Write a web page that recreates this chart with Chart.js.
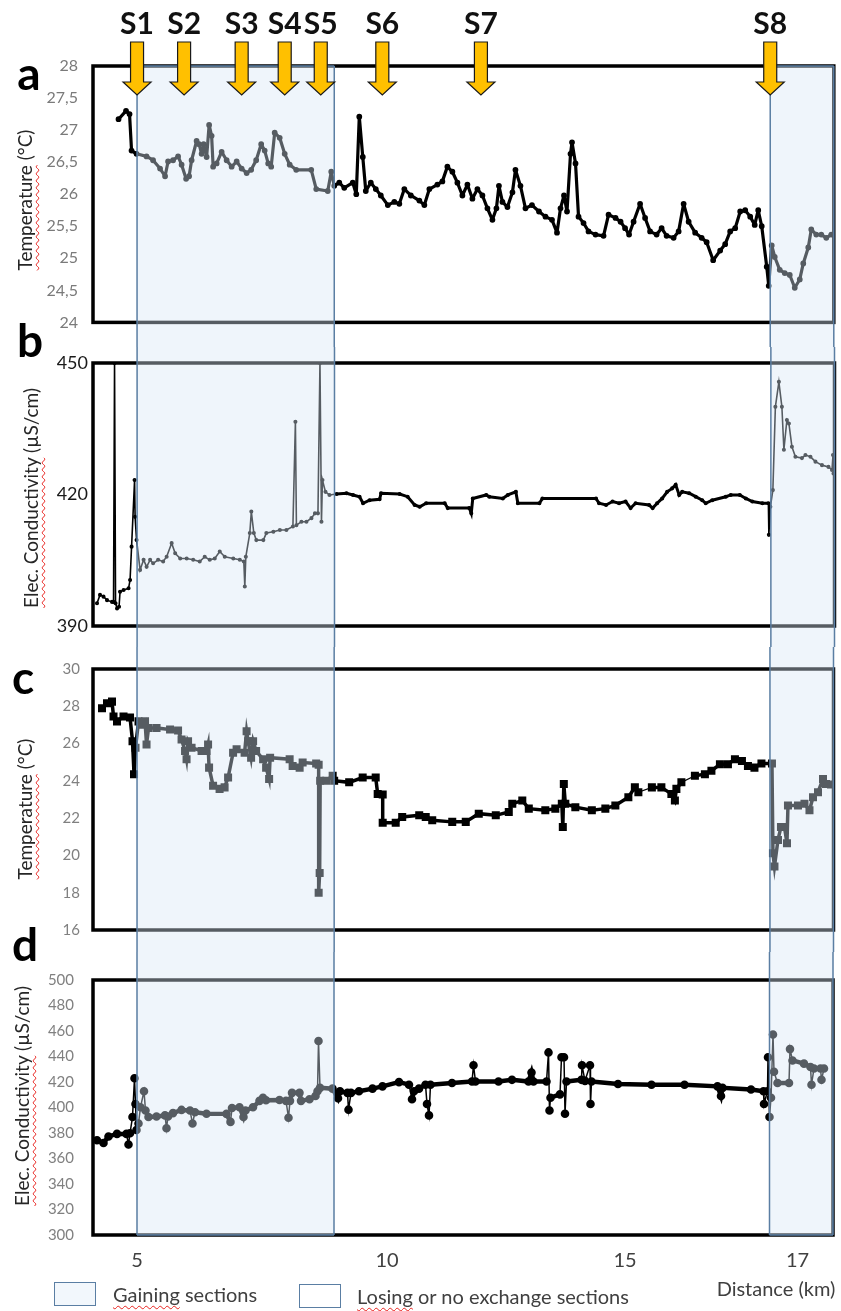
<!DOCTYPE html>
<html><head><meta charset="utf-8">
<script src="https://cdn.jsdelivr.net/npm/chart.js@4.4.1/dist/chart.umd.min.js"></script>
<style>
html,body{margin:0;padding:0;background:#fff;}
#wrap{position:relative;width:841px;height:1311px;overflow:hidden;font-family:Lato,"Open Sans",sans-serif;background:#fff;}
canvas{position:absolute;left:0;}
.lt{position:absolute;font-weight:700;font-size:46px;line-height:46px;color:#000;transform:translateX(-50%);}
.yt{position:absolute;white-space:nowrap;font-size:19px;line-height:20px;color:#262626;transform:translate(-50%,-50%) rotate(-90deg);}
.sq{text-decoration:underline wavy #e8231f;text-decoration-skip-ink:none;text-underline-offset:3px;text-decoration-thickness:1px;}
.lg{position:absolute;font-size:20px;line-height:20px;color:#404040;white-space:nowrap;}
.box{position:absolute;width:42px;height:24px;border:1.5px solid #5a7ea3;box-sizing:border-box;}
</style></head>
<body>
<div id="wrap">
  <canvas id="c1" width="841" height="347" style="top:0"></canvas>
  <canvas id="c2" width="841" height="300" style="top:347px"></canvas>
  <canvas id="c3" width="841" height="305" style="top:647px"></canvas>
  <canvas id="c4" width="841" height="359" style="top:952px"></canvas>

  <div class="lt" style="left:29px;top:50px">a</div>
  <div class="lt" style="left:30px;top:317px">b</div>
  <div class="lt" style="left:23px;top:654px">c</div>
  <div class="lt" style="left:25px;top:921px">d</div>

  <div class="yt" style="left:25px;top:200px"><span class="sq">Temperature</span> (°C)</div>
  <div class="yt" style="left:31px;top:498px"><span class="sq">Elec. Conductivity</span> (µS/cm)</div>
  <div class="yt" style="left:25px;top:809px"><span class="sq">Temperature</span> (°C)</div>
  <div class="yt" style="left:22px;top:1096px"><span class="sq">Elec. Conductivity</span> (µS/cm)</div>

  <div class="box" style="left:54px;top:1282px;background:#f2f7fc"></div>
  <div class="lg" style="left:113px;top:1284px"><span class="sq">Gaining</span> sections</div>
  <div class="box" style="left:299px;top:1284px;background:#fff"></div>
  <div class="lg" style="left:357px;top:1286px"><span class="sq">Losing</span> or no exchange sections</div>
  <div class="lg" style="left:776px;top:1278px;transform:translateX(-50%)">Distance (km)</div>
</div>
<script>
// ---------- DATA ----------
// x values are in plot-distance units (km, as positioned on the drawn axis)
const xTickValues = [5, 10, 14.76, 18.21];
const xTickLabels = ['5', '10', '15', '17'];

const arrowDist   = [5.00, 5.94, 7.09, 7.95, 8.67, 9.90, 11.87, 17.65];
const arrowLabels = ['S1','S2','S3','S4','S5','S6','S7','S8'];

const gainStart = [5.00, 17.65];
const gainEnd   = [8.94, 18.92];

// panel a : water temperature (°C)
const aDist = [4.63,4.78,4.85,4.89,4.99,5.19,5.32,5.46,5.56,5.62,5.72,5.82,5.89,5.98,6.04,6.09,6.19,6.24,6.29,6.33,6.39,6.44,6.49,6.52,6.59,6.69,6.79,6.89,6.99,7.09,7.19,7.28,7.38,7.48,7.55,7.62,7.68,7.75,7.85,7.95,8.05,8.18,8.48,8.58,8.81,8.88,8.94,9.04,9.14,9.31,9.38,9.44,9.51,9.57,9.67,9.77,9.87,10.01,10.14,10.24,10.34,10.47,10.64,10.74,10.84,11.00,11.10,11.20,11.30,11.40,11.50,11.60,11.70,11.80,11.90,12.00,12.10,12.18,12.23,12.30,12.40,12.50,12.56,12.66,12.76,12.89,13.03,13.16,13.29,13.39,13.46,13.53,13.59,13.66,13.69,13.76,13.82,13.92,14.02,14.16,14.32,14.42,14.56,14.66,14.75,14.83,14.92,15.05,15.15,15.25,15.38,15.48,15.58,15.72,15.82,15.92,16.02,16.15,16.28,16.38,16.51,16.65,16.75,16.85,16.95,17.05,17.15,17.25,17.34,17.41,17.48,17.58,17.62,17.68,17.74,17.84,17.94,18.04,18.14,18.24,18.31,18.41,18.47,18.57,18.67,18.77,18.87];
const aTemp = [27.17,27.30,27.25,26.68,26.63,26.59,26.53,26.40,26.28,26.51,26.53,26.59,26.46,26.24,26.28,26.53,26.83,26.78,26.63,26.78,26.58,27.08,26.91,26.43,26.48,26.66,26.53,26.43,26.51,26.40,26.33,26.38,26.53,26.78,26.68,26.48,26.43,26.96,26.88,26.63,26.46,26.38,26.38,26.08,26.05,26.35,26.13,26.18,26.10,26.18,26.00,27.21,26.58,26.05,26.18,26.08,25.98,25.83,25.88,25.85,26.08,25.98,25.90,25.83,26.08,26.15,26.20,26.43,26.35,26.18,25.98,26.15,25.93,26.08,25.98,25.78,25.60,25.78,26.13,25.88,25.80,26.03,26.38,26.13,25.78,25.83,25.73,25.65,25.60,25.40,25.78,25.98,25.73,26.63,26.81,26.48,25.65,25.55,25.42,25.37,25.35,25.68,25.63,25.57,25.47,25.37,25.57,25.85,25.63,25.42,25.37,25.47,25.35,25.32,25.42,25.85,25.57,25.40,25.32,25.25,24.97,25.12,25.22,25.42,25.47,25.73,25.75,25.65,25.52,25.75,25.50,24.87,24.57,25.20,25.02,24.82,24.77,24.74,24.54,24.67,24.92,25.17,25.45,25.37,25.37,25.32,25.37];

// panel b : electrical conductivity (µS/cm)
const bDist = [4.20,4.26,4.33,4.40,4.50,4.53,4.55,4.57,4.60,4.64,4.66,4.73,4.83,4.86,4.89,4.95,4.96,4.99,5.06,5.13,5.19,5.26,5.32,5.42,5.52,5.59,5.69,5.76,5.86,5.99,6.12,6.25,6.35,6.45,6.55,6.65,6.75,6.92,7.05,7.13,7.15,7.17,7.25,7.28,7.33,7.38,7.52,7.58,7.72,7.85,7.98,8.11,8.16,8.18,8.28,8.38,8.48,8.55,8.61,8.65,8.68,8.70,8.76,8.84,8.98,9.18,9.31,9.44,9.51,9.64,9.84,9.87,10.24,10.40,10.54,10.64,10.77,11.14,11.20,11.63,11.67,11.70,11.97,12.03,12.30,12.40,12.56,12.60,13.03,13.09,14.16,14.22,14.36,14.49,14.62,14.75,14.85,14.95,15.22,15.29,15.38,15.48,15.58,15.68,15.75,15.82,15.88,16.02,16.15,16.28,16.35,16.48,16.75,16.85,17.03,17.15,17.28,17.48,17.60,17.61,17.64,17.69,17.74,17.81,17.87,17.91,17.97,18.01,18.07,18.14,18.27,18.34,18.44,18.54,18.67,18.80,18.87,18.89,18.90];
const bEC = [395.2,397.1,396.7,395.9,395.5,395.5,450,395.2,394.0,394.4,397.8,398.2,398.6,400.5,408.1,423.3,414.9,409.6,402.8,405.1,403.5,405.1,404.3,405.1,404.7,405.8,408.9,406.6,405.4,405.4,405.1,404.7,405.8,405.1,405.4,407.0,405.8,405.4,405.1,404.7,399.0,405.8,411.2,416.1,411.2,409.6,409.6,411.2,411.5,411.9,411.9,412.7,436.6,413.0,413.8,413.8,414.6,415.7,415.7,450,413.8,423.3,420.6,419.9,420.1,420.3,419.9,419.5,418.0,418.7,418.9,420.3,420.1,419.5,417.6,417.2,418.0,418.0,416.9,416.9,415.7,419.1,419.9,419.5,419.1,419.9,420.6,418.0,418.0,419.1,419.1,418.0,417.6,418.4,418.0,418.4,416.9,418.0,417.6,416.9,418.0,419.1,420.6,421.4,422.2,419.9,420.6,420.3,419.5,418.7,418.0,418.7,419.5,419.9,419.9,419.1,418.4,418.0,418.0,410.8,417.2,421.0,440.0,445.7,440.0,430.2,437.0,436.2,430.9,428.6,428.3,429.0,428.6,427.5,426.7,426.3,425.6,429.0,424.8];

// panel c : temperature (°C)
const cDist = [4.30,4.40,4.50,4.53,4.60,4.73,4.86,4.91,4.94,4.97,5.03,5.09,5.16,5.19,5.23,5.39,5.66,5.82,5.89,5.96,5.99,6.02,6.09,6.29,6.39,6.42,6.44,6.52,6.65,6.75,6.82,6.92,6.99,7.15,7.19,7.22,7.28,7.32,7.38,7.52,7.58,7.64,7.66,8.05,8.11,8.25,8.31,8.58,8.63,8.63,8.65,8.66,8.78,8.91,8.94,9.24,9.51,9.77,9.81,9.91,9.91,10.17,10.30,10.64,10.77,10.90,11.30,11.57,11.83,12.17,12.43,12.50,12.70,12.83,13.16,13.36,13.49,13.51,13.53,13.56,13.76,14.09,14.36,14.56,14.82,14.95,15.02,15.29,15.48,15.68,15.75,15.78,15.88,16.15,16.35,16.48,16.65,16.81,16.95,17.09,17.21,17.34,17.48,17.69,17.71,17.74,17.81,17.87,17.94,17.99,18.01,18.21,18.34,18.44,18.51,18.61,18.71,18.77,18.87];
const cTemp = [27.90,28.16,28.25,27.45,27.19,27.45,27.40,26.13,24.36,25.78,27.19,27.01,27.19,25.95,26.83,26.83,26.75,26.70,26.22,25.60,25.16,26.13,25.78,25.60,25.60,25.95,24.71,23.74,23.57,23.65,24.18,25.51,25.69,25.51,26.66,26.13,25.24,26.13,25.60,25.16,24.71,24.10,25.24,25.16,24.80,24.71,24.98,24.93,24.86,18.00,19.06,24.01,24.01,24.27,24.01,23.92,24.18,24.18,23.30,23.27,21.75,21.75,22.06,22.15,22.06,21.89,21.80,21.80,22.24,22.15,22.33,22.77,22.95,22.51,22.42,22.51,22.77,21.53,23.83,22.77,22.59,22.42,22.51,22.68,23.12,23.65,23.39,23.65,23.65,23.30,22.95,23.57,23.92,24.27,24.36,24.54,24.89,24.89,25.16,25.07,24.80,24.71,24.93,24.93,20.12,19.41,20.83,21.53,21.53,20.65,22.68,22.68,22.77,22.42,23.12,23.39,24.10,23.83,23.80];

// panel d : electrical conductivity (µS/cm)
const dDist = [4.20,4.33,4.43,4.60,4.79,4.83,4.86,4.91,4.95,4.97,4.99,5.03,5.07,5.14,5.17,5.23,5.39,5.56,5.59,5.62,5.72,5.89,6.06,6.11,6.16,6.39,6.79,6.87,6.90,7.05,7.13,7.17,7.32,7.45,7.52,7.58,7.85,7.98,8.03,8.06,8.10,8.25,8.28,8.45,8.57,8.61,8.63,8.66,8.91,9.02,9.06,9.21,9.23,9.28,9.44,9.71,9.91,10.24,10.44,10.50,10.54,10.64,10.77,10.80,10.84,10.87,11.30,11.70,11.73,11.77,12.23,12.50,12.83,12.89,12.93,13.19,13.23,13.25,13.27,13.46,13.49,13.54,13.56,13.59,13.89,13.90,13.96,14.06,14.07,14.09,14.62,15.29,15.95,16.61,16.68,16.71,17.28,17.53,17.54,17.61,17.62,17.65,17.68,17.72,17.74,17.81,18.04,18.06,18.11,18.34,18.47,18.49,18.54,18.67,18.69,18.74];
const dEC = [374.3,372.2,377.3,379.3,379.3,371.0,379.8,392.5,423.0,402.7,382.4,387.5,400.2,412.8,397.6,392.5,393.0,393.8,383.7,393.0,395.6,398.1,397.6,387.5,396.3,395.1,395.0,388.7,399.6,400.2,392.5,397.6,400.2,405.2,407.7,405.7,405.9,405.2,392.0,405.2,411.5,411.5,405.2,406.5,409.0,412.8,452.1,415.4,414.8,407.2,412.8,411.5,398.3,411.5,412.8,414.8,416.6,419.9,417.9,406.5,412.8,414.8,417.9,402.7,393.8,417.9,419.2,420.4,433.1,420.4,420.4,421.7,420.4,427.5,420.4,420.4,443.2,397.6,407.7,410.3,439.4,439.4,395.1,420.4,421.7,433.1,420.9,433.1,402.7,420.4,418.4,417.9,417.9,416.6,409.0,415.4,414.1,412.8,402.7,412.8,439.4,392.5,407.7,457.2,428.0,419.2,419.2,445.8,436.9,434.4,431.8,417.9,430.6,430.6,421.7,430.6];

// ---------- CHARTS ----------
Chart.defaults.font.family = 'Lato, "Open Sans", sans-serif';
const X_MIN = 4.12, X_MAX = 18.92;
const pts = (xs, ys) => xs.map((x, i) => ({x, y: ys[i]}));
const comma = v => String(v).replace('.', ',');

const frameShade = {
  id: 'frameShade',
  afterDatasetsDraw(chart, args, opts) {
    const {ctx, chartArea: a} = chart;
    const x = chart.scales.x;
    ctx.save();
    ctx.strokeStyle = '#000'; ctx.lineWidth = 3.5;
    ctx.strokeRect(a.left, a.top, a.right - a.left, a.bottom - a.top);
    const y0 = opts.fromArea ? a.top : 0;
    const y1 = opts.toArea ? a.bottom : chart.height;
    gainStart.forEach((s, i) => {
      const x0 = x.getPixelForValue(s), x1 = x.getPixelForValue(gainEnd[i]);
      ctx.fillStyle = 'rgba(214,230,246,0.40)';
      ctx.fillRect(x0, y0, x1 - x0, y1 - y0);
      ctx.strokeStyle = '#5a7ea3'; ctx.lineWidth = 1.5;
      ctx.beginPath();
      ctx.moveTo(x0, y0); ctx.lineTo(x0, y1);
      ctx.moveTo(x1, y0); ctx.lineTo(x1, y1);
      if (opts.fromArea) { ctx.moveTo(x0, y0); ctx.lineTo(x1, y0); }
      if (opts.toArea) { ctx.moveTo(x0, y1); ctx.lineTo(x1, y1); }
      ctx.stroke();
    });
    ctx.restore();
  }
};

const arrows = {
  id: 'arrows',
  afterDraw(chart) {
    const {ctx} = chart;
    const x = chart.scales.x;
    ctx.save();
    arrowDist.forEach((d, i) => {
      const px = x.getPixelForValue(d);
      ctx.beginPath();
      ctx.moveTo(px - 6.5, 42); ctx.lineTo(px + 6.5, 42); ctx.lineTo(px + 6.5, 82);
      ctx.lineTo(px + 14, 82); ctx.lineTo(px, 95); ctx.lineTo(px - 14, 82);
      ctx.lineTo(px - 6.5, 82); ctx.closePath();
      ctx.fillStyle = '#ffc000'; ctx.fill();
      ctx.strokeStyle = '#1a1a1a'; ctx.lineWidth = 1.2; ctx.stroke();
      ctx.fillStyle = '#111';
      ctx.font = 'bold 30px Lato, "Open Sans", sans-serif';
      ctx.textAlign = 'center'; ctx.textBaseline = 'alphabetic';
      ctx.fillText(arrowLabels[i], px, 34);
    });
    ctx.restore();
  }
};

function yAxis(min, max, step, color, size, pad, cb) {
  return {
    type: 'linear', min, max,
    afterFit: s => { s.width = 93; },
    grid: {display: false, drawTicks: false}, border: {display: false},
    ticks: {stepSize: step, color, font: {size}, padding: pad, callback: cb || (v => String(v))}
  };
}

function make(id, data, ycfg, ds, padTop, padBottom, shadeOpts, extraPlugins, lastPanel) {
  const xcfg = {
    type: 'linear', min: X_MIN, max: X_MAX,
    display: !!lastPanel,
    grid: {display: false, drawTicks: false}, border: {display: false},
    afterFit: s => { if (lastPanel) s.height = 76; },
    afterBuildTicks: s => { s.ticks = xTickValues.map(v => ({value: v})); },
    ticks: {color: '#404040', font: {size: 20}, padding: 14, maxRotation: 0, autoSkip: false,
            callback: (v, i) => xTickLabels[i]}
  };
  return new Chart(document.getElementById(id), {
    type: 'line',
    data: {datasets: [Object.assign({data, tension: 0, borderColor: '#000', backgroundColor: '#000',
      pointBorderColor: '#000', pointBackgroundColor: '#000', fill: false}, ds)]},
    options: {
      responsive: false, animation: false, devicePixelRatio: 1,
      layout: {padding: {top: padTop, bottom: padBottom, left: 0, right: 5}},
      plugins: {legend: {display: false}, tooltip: {enabled: false}, frameShade: shadeOpts},
      scales: {x: xcfg, y: ycfg}
    },
    plugins: [frameShade].concat(extraPlugins || [])
  });
}

make('c1', pts(aDist, aTemp),
  yAxis(24, 28, 0.5, '#7a7a7a', 16, 15, v => comma(v)),
  {borderWidth: 3.2, pointRadius: 1.3, borderJoinStyle: 'round'},
  66, 16, {fromArea: true, toArea: false}, [arrows]);

make('c2', pts(bDist, bEC),
  yAxis(390, 450, 30, '#1a1a1a', 18, 5),
  {borderWidth: 2.5, pointRadius: 0.8,
   segment: {borderWidth: c => (c.p0.parsed.x >= 8.94 && c.p0.parsed.x < 17.6) ? 3 : 1.6}},
  16, 21, {fromArea: false, toArea: false});

make('c3', pts(cDist, cTemp),
  yAxis(16, 30, 2, '#808080', 15, 13),
  {borderWidth: 3.5, pointRadius: 3.2, pointStyle: 'rect',
   segment: {borderWidth: c => (c.p1.parsed.x - c.p0.parsed.x > 0.26 && c.p0.parsed.x > 14.9 && c.p0.parsed.x < 16.2) ? 1.2 : 3.5}},
  20, 21, {fromArea: false, toArea: false});

make('c4', pts(dDist, dEC),
  yAxis(300, 500, 20, '#808080', 15, 19),
  {borderWidth: 4, pointRadius: 2.3, pointStyle: 'circle',
   segment: {borderWidth: c => Math.abs(c.p1.parsed.y - c.p0.parsed.y) > 8 ? 1.5 : 4.5}},
  20, 0, {fromArea: false, toArea: true}, [], true);
</script>
</body></html>
